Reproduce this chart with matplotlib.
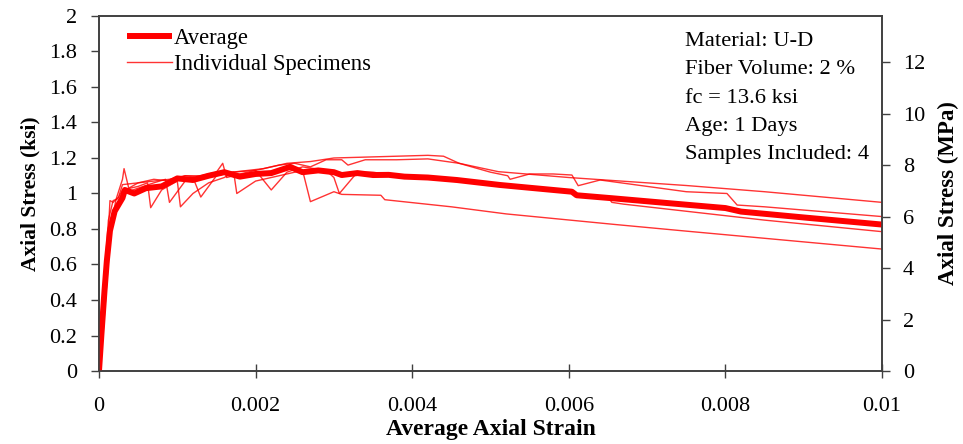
import matplotlib
matplotlib.use("Agg")
import matplotlib.pyplot as plt
import numpy as np

plt.rcParams['font.family'] = ['Liberation Serif', 'DejaVu Serif']

# Averaged response
avg_strain = [0, 0.00003, 0.00007, 0.0001, 0.00014, 0.0002, 0.0003, 0.00033, 0.00045,
              0.0006, 0.0008, 0.001, 0.0012, 0.0014, 0.0016, 0.0018, 0.002, 0.0022,
              0.00244, 0.0026, 0.0028, 0.003, 0.0031, 0.0033, 0.0035, 0.0037, 0.0039,
              0.0042, 0.00457, 0.00512, 0.00604, 0.0061, 0.00656, 0.00755, 0.008,
              0.0082, 0.009, 0.01]
avg_stress = [0, 0.2, 0.45, 0.62, 0.79, 0.9, 0.975, 1.02, 1.0,
              1.03, 1.04, 1.085, 1.076, 1.10, 1.12, 1.095, 1.11, 1.115,
              1.15, 1.12, 1.13, 1.12, 1.104, 1.115, 1.104, 1.105, 1.095,
              1.09, 1.076, 1.048, 1.01, 0.99, 0.973, 0.935, 0.918,
              0.898, 0.865, 0.825]

# Individual specimens
s1_strain = [0, 0.00004, 0.00009, 0.00015, 0.00022, 0.0003, 0.00032, 0.00038, 0.0005,
             0.0007, 0.0009, 0.0011, 0.0013, 0.0015, 0.00158, 0.00163, 0.0018, 0.002,
             0.0022, 0.0024, 0.0027, 0.003, 0.0034, 0.0038, 0.0042, 0.0044, 0.0046,
             0.0051, 0.006, 0.0068, 0.0075, 0.0085, 0.01]
s1_stress = [0, 0.25, 0.55, 0.82, 0.97, 1.08, 1.14, 1.03, 1.06,
             1.07, 1.08, 1.10, 1.09, 1.12, 1.17, 1.09, 1.11, 1.13,
             1.15, 1.17, 1.18, 1.20, 1.205, 1.21, 1.215, 1.21, 1.17,
             1.123, 1.09, 1.066, 1.045, 1.01, 0.95]

s2_strain = [0, 0.00005, 0.0001, 0.00014, 0.00018, 0.00025, 0.0003, 0.0005, 0.0007,
             0.0009, 0.0011, 0.0013, 0.0015, 0.0017, 0.0019, 0.0021, 0.0023, 0.0025,
             0.0027, 0.0029, 0.0031, 0.00318, 0.0034, 0.0038, 0.0042, 0.0046, 0.005,
             0.00522, 0.00525, 0.0055, 0.0058, 0.00604, 0.00612, 0.0064, 0.0075,
             0.00802, 0.00815, 0.0085, 0.01]
s2_stress = [0, 0.3, 0.62, 0.96, 0.95, 0.98, 1.05, 1.06, 1.08,
             1.07, 1.10, 1.10, 1.12, 1.12, 1.13, 1.14, 1.16, 1.17,
             1.15, 1.19, 1.19, 1.16, 1.19, 1.19, 1.195, 1.17, 1.12,
             1.10, 1.08, 1.11, 1.11, 1.104, 1.044, 1.076, 1.01,
             1.0, 0.935, 0.925, 0.87]

s3_strain = [0, 0.00005, 0.0001, 0.00015, 0.0002, 0.0003, 0.0005, 0.0007, 0.00085,
             0.0009, 0.0011, 0.0012, 0.0013, 0.0015, 0.0017, 0.002, 0.0022, 0.0024,
             0.0026, 0.0029, 0.003, 0.00307, 0.0033, 0.0035, 0.0038, 0.004, 0.0045,
             0.005, 0.0055, 0.006, 0.0065, 0.00655, 0.0067, 0.0075, 0.0085, 0.01]
s3_stress = [0, 0.2, 0.5, 0.78, 0.92, 1.0, 1.03, 1.06, 1.08,
             0.95, 1.07, 1.09, 0.98, 1.10, 1.12, 1.13, 1.02, 1.12,
             1.15, 1.13, 1.09, 1.0, 1.12, 1.12, 1.10, 1.09, 1.07,
             1.05, 1.03, 1.005, 0.98, 0.95, 0.94, 0.90, 0.85, 0.785]

s4_strain = [0, 0.00004, 0.00008, 0.00012, 0.00018, 0.00024, 0.0003, 0.0005, 0.00062,
             0.00066, 0.0008, 0.001, 0.00104, 0.0012, 0.0014, 0.0016, 0.00172, 0.00176,
             0.002, 0.0023, 0.0026, 0.0027, 0.003, 0.0031, 0.0036, 0.00365, 0.0045,
             0.0052, 0.0066, 0.0075, 0.01]
s4_stress = [0, 0.3, 0.6, 0.85, 0.96, 0.97, 1.02, 1.04, 1.06,
             0.92, 1.02, 1.07, 0.925, 1.0, 1.06, 1.09, 1.12, 1.0,
             1.07, 1.10, 1.13, 0.954, 1.01, 0.995, 0.99, 0.965, 0.925,
             0.885, 0.825, 0.788, 0.687]

specimens = [(s1_strain, s1_stress), (s2_strain, s2_stress),
             (s3_strain, s3_stress), (s4_strain, s4_stress)]

info_lines = ["Material: U-D", "Fiber Volume: 2 %", "fc = 13.6 ksi",
              "Age: 1 Days", "Samples Included: 4"]

KSI_TO_MPA = 6.894757
x_ticks = [0, 0.002, 0.004, 0.006, 0.008, 0.01]
y_ticks = [0, 0.2, 0.4, 0.6, 0.8, 1.0, 1.2, 1.4, 1.6, 1.8, 2.0]
mpa_ticks = [0, 2, 4, 6, 8, 10, 12]

fig = plt.figure(figsize=(9.63, 4.44), dpi=100)
ax = fig.add_axes([0.1028, 0.1644, 0.8131, 0.7996])

for i, (sx, sy) in enumerate(specimens):
    ax.plot(sx, sy, color='#ff0000', lw=1.0, alpha=0.8,
            label='Individual Specimens' if i == 0 else None, zorder=2)
ax.plot(avg_strain, avg_stress, color='#ff0000', lw=4.3, label='Average',
        solid_capstyle='butt', zorder=3)

ax.set_xlim(0, 0.01)
ax.set_ylim(0, 2)
ax.set_xticks(x_ticks)
ax.set_xticklabels(['%g' % v for v in x_ticks])
ax.set_yticks(y_ticks)
ax.set_yticklabels(['%g' % v for v in y_ticks])
ax.tick_params(axis='y', direction='out', length=6, width=1, colors='#404040',
               labelcolor='black', labelsize=16, pad=10)
ax.tick_params(axis='x', direction='inout', length=10, width=1, colors='#404040',
               labelcolor='black', labelsize=16, pad=14)
for s in ax.spines.values():
    s.set_color('#404040')
    s.set_linewidth(1.2)

ax.set_xlabel('Average Axial Strain', fontsize=17, fontweight='bold', labelpad=2)
ax.set_ylabel('Axial Stress (ksi)', fontsize=15.5, fontweight='bold', labelpad=6)

ax2 = ax.twinx()
ax2.set_ylim(0, 2 * KSI_TO_MPA)
ax2.set_yticks(mpa_ticks)
ax2.set_yticklabels(['%g' % v for v in mpa_ticks])
ax2.tick_params(axis='y', direction='out', length=6, width=1, colors='#404040',
                labelcolor='black', labelsize=16, pad=9)
for s in ax2.spines.values():
    s.set_color('#404040')
    s.set_linewidth(1.2)
ax2.set_ylabel('Axial Stress (MPa)', fontsize=16.5, fontweight='bold', labelpad=9)

handles, labels = ax.get_legend_handles_labels()
order = [labels.index('Average'), labels.index('Individual Specimens')]
leg = ax.legend([handles[i] for i in order], [labels[i] for i in order],
                loc='upper left', bbox_to_anchor=(0.016, 1.01), frameon=False,
                fontsize=16.3, handlelength=1.95, handletextpad=0.12, labelspacing=0.2,
                borderaxespad=0.3)

for k, line in enumerate(info_lines):
    ax.text(0.748, 0.928 - k * 0.0796, line, transform=ax.transAxes,
            fontsize=16.2, ha='left', va='center')

fig.savefig('out.png', dpi=100)
